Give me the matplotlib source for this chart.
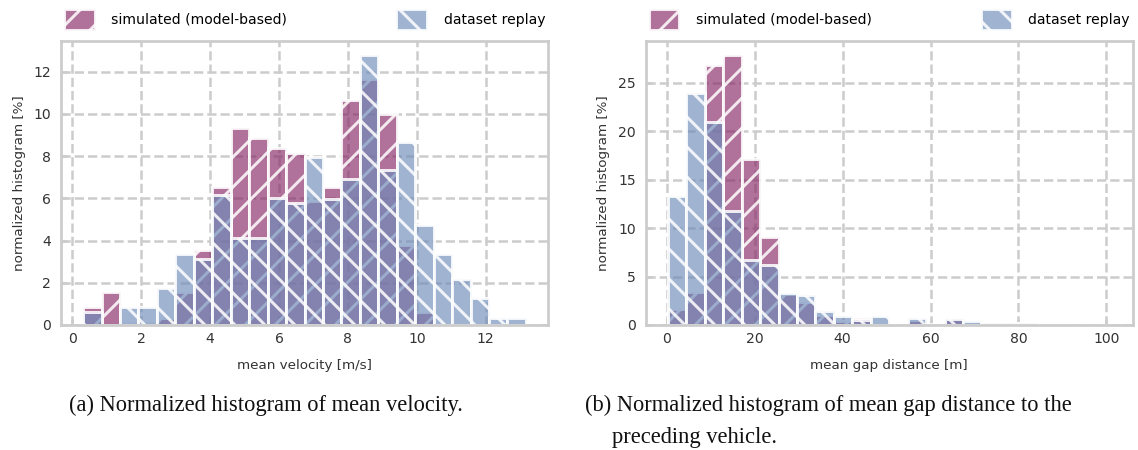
import numpy as np
import matplotlib.pyplot as plt
from matplotlib.colors import to_rgba

# velocity histogram, 24 bins [%]
vel_edges = np.linspace(0.31, 13.17, 25)
vel_sim = [0.84, 1.54, 0.14, 0.14, 0.35, 1.54, 3.57, 6.56, 9.32, 8.86, 8.38, 8.14,
           5.87, 6.56, 10.67, 11.67, 10.0, 3.81, 0.6, 0.0, 0.0, 0.0, 0.0, 0.0]
vel_data = [0.6, 0.0, 0.84, 0.84, 1.75, 3.37, 3.14, 6.14, 4.13, 4.1, 6.0, 5.76,
            7.98, 5.95, 6.9, 12.81, 7.35, 8.65, 4.73, 3.35, 2.19, 1.27, 0.35, 0.35]

# gap distance histogram, 24 bins [%]
gap_edges = np.linspace(0.2, 101.0, 25)
gap_sim = [1.63, 3.4, 26.8, 27.9, 17.1, 9.1, 3.2, 2.35, 1.0, 0.45, 0.7, 0.0,
           0.0, 0.5, 0.15, 0.75, 0.2, 0.15, 0.2, 0.0, 0.0, 0.0, 0.0, 0.0]
gap_data = [13.3, 23.9, 20.9, 11.8, 6.75, 6.2, 3.25, 3.05, 1.4, 0.95, 0.5, 0.95,
            0.0, 0.72, 0.0, 0.65, 0.4, 0.2, 0.2, 0.2, 0.0, 0.0, 0.0, 0.0]

labels = ['simulated (model-based)', 'dataset replay']
c_sim = to_rgba('#862565', 0.65)
c_data = to_rgba('#6d8cba', 0.65)
c_edge = (1, 1, 1, 0.85)
grey = '#cccccc'

plt.rcParams['font.family'] = 'DejaVu Sans'
plt.rcParams['hatch.linewidth'] = 1.2

fig = plt.figure(figsize=(1138 / 180, 450 / 180), dpi=180)
ax1 = fig.add_axes([0.0536, 0.2778, 0.428, 0.631])
ax2 = fig.add_axes([0.5674, 0.2778, 0.428, 0.631])

def draw(ax, edges, sim, data, xticks, yticks, xlabel):
    centers = 0.5 * (edges[:-1] + edges[1:])
    ax.set_axisbelow(True)
    ax.grid(True, ls='--', color=grey, lw=1.0)
    ax.hist(centers, bins=edges, weights=sim, facecolor=c_sim,
            edgecolor=c_edge, linewidth=1.2, hatch='//', label=labels[0])
    ax.hist(centers, bins=edges, weights=data, facecolor=c_data,
            edgecolor=c_edge, linewidth=1.2, hatch='\\\\', label=labels[1])
    ax.set_xticks(xticks)
    ax.set_yticks(yticks)
    for s in ax.spines.values():
        s.set_color(grey)
        s.set_linewidth(1.1)
    ax.tick_params(labelsize=5.6, colors='#333333', length=2.5, width=1.0,
                   direction='in', pad=4)
    ax.tick_params(axis='x', pad=3)
    ax.tick_params(color=grey)
    ax.set_xlabel(xlabel, fontsize=5.4, color='#333333', labelpad=5)
    ax.set_ylabel('normalized histogram [%]', fontsize=5.4, color='#333333',
                  labelpad=3)
    ax.legend(loc='lower left', bbox_to_anchor=(0, 1.03, 1, 0.1), ncol=2,
              mode='expand', frameon=False, fontsize=5.6, handlelength=2.2,
              handleheight=1.9, handletextpad=1.2, borderaxespad=0,
              borderpad=0.2)

draw(ax1, vel_edges, vel_sim, vel_data, np.arange(0, 13, 2), np.arange(0, 13, 2),
     'mean velocity [m/s]')
draw(ax2, gap_edges, gap_sim, gap_data, np.arange(0, 101, 20), np.arange(0, 26, 5),
     'mean gap distance [m]')

cap = dict(family='Liberation Serif', fontsize=9.0, color='#111111', va='center')
fig.text(69 / 1138, 1 - 405 / 450, '(a) Normalized histogram of mean velocity.', **cap)
fig.text(585 / 1138, 1 - 405 / 450,
         '(b) Normalized histogram of mean gap distance to the', **cap)
fig.text(612 / 1138, 1 - 437 / 450, 'preceding vehicle.', **cap)

fig.savefig('out.png', dpi=180)
